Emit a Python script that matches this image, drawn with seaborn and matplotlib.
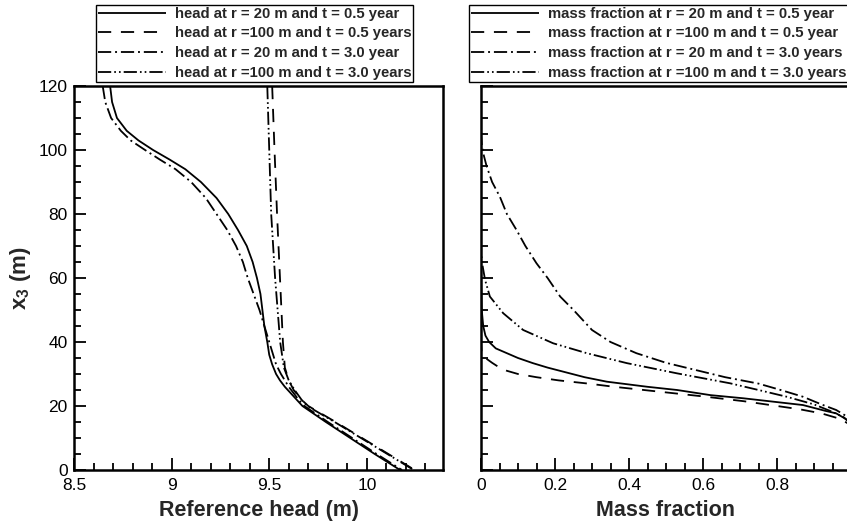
import numpy as np
import pandas as pd
import matplotlib
matplotlib.use("Agg")
import matplotlib.pyplot as plt
from matplotlib.ticker import MultipleLocator
from matplotlib.lines import Line2D
import seaborn as sns

sns.set_theme(style="white")
plt.rcParams['font.family'] = ['Liberation Sans', 'DejaVu Sans']
plt.rcParams['mathtext.fontset'] = 'custom'
plt.rcParams['mathtext.rm'] = 'Liberation Sans'
plt.rcParams['mathtext.bf'] = 'Liberation Sans:bold'
plt.rcParams['lines.scale_dashes'] = False

# ---------------- data: left panel (reference head) ----------------
head_labels = ["head at r = 20 m and t = 0.5 year",
               "head at r =100 m and t = 0.5 years",
               "head at r = 20 m and t = 3.0 year",
               "head at r =100 m and t = 3.0 years"]

h1_z = [120, 115, 110, 106, 103, 100, 97, 94, 90, 85, 80, 75, 70, 65, 60, 55, 50, 45, 40, 36, 33, 30, 28, 26, 24, 22, 20, 15, 10, 5, 0]
h1_v = [8.685, 8.695, 8.72, 8.77, 8.83, 8.905, 8.99, 9.07, 9.15, 9.23, 9.29, 9.34, 9.385, 9.415, 9.437, 9.455, 9.465, 9.475, 9.49, 9.50, 9.515, 9.535, 9.555, 9.58, 9.61, 9.64, 9.67, 9.79, 9.915, 10.04, 10.17]

h2_z = [120, 100, 80, 60, 40, 32, 28, 25, 22, 20, 15, 10, 5, 0]
h2_v = [9.515, 9.527, 9.54, 9.555, 9.57, 9.58, 9.60, 9.625, 9.665, 9.70, 9.84, 9.975, 10.11, 10.245]

h3_z = [120, 115, 110, 106, 103, 100, 97, 94, 90, 85, 80, 75, 70, 65, 60, 55, 50, 45, 40, 36, 33, 30, 28, 26, 24, 22, 20, 15, 10, 5, 0]
h3_v = [8.647, 8.66, 8.69, 8.74, 8.79, 8.864, 8.94, 9.02, 9.10, 9.175, 9.23, 9.285, 9.33, 9.365, 9.39, 9.42, 9.45, 9.475, 9.50, 9.52, 9.535, 9.56, 9.58, 9.60, 9.625, 9.65, 9.68, 9.80, 9.925, 10.05, 10.18]

h4_z = [120, 100, 80, 60, 40, 32, 28, 25, 22, 20, 15, 10, 5, 0]
h4_v = [9.49, 9.50, 9.51, 9.53, 9.556, 9.575, 9.60, 9.63, 9.665, 9.695, 9.835, 9.97, 10.105, 10.24]

# ---------------- data: right panel (mass fraction) ----------------
mass_labels = ["mass fraction at r = 20 m and t = 0.5 year",
               "mass fraction at r =100 m and t = 0.5 year",
               "mass fraction at r = 20 m and t = 3.0 years",
               "mass fraction at r =100 m and t = 3.0 years"]

m1_z = [120, 60, 50, 45, 42, 40, 38, 36.5, 35, 33.4, 32, 30.2, 29, 27.6, 26, 25, 23.4, 22.4, 20.3, 18.5, 17.7, 16, 14.5]
m1_v = [0, 0, 0.002, 0.006, 0.012, 0.022, 0.04, 0.07, 0.10, 0.14, 0.18, 0.24, 0.28, 0.34, 0.45, 0.53, 0.62, 0.71, 0.87, 0.93, 0.96, 0.985, 1.0]

m2_z = [120, 40, 36, 35, 33.5, 32, 31, 30, 29, 28, 27, 26, 24.5, 23, 21.5, 20, 19, 17.7, 16, 14]
m2_v = [0, 0, 0.002, 0.012, 0.03, 0.05, 0.07, 0.10, 0.15, 0.21, 0.29, 0.36, 0.48, 0.60, 0.71, 0.80, 0.86, 0.92, 0.97, 1.0]

m3_z = [120, 105, 102, 99, 95, 90, 85.4, 80, 75, 70, 64.6, 60, 54.2, 50, 43.75, 40, 36.5, 33.5, 31.25, 29, 27, 25, 22.9, 20.5, 18.75, 17, 15]
m3_v = [0, 0, 0.002, 0.006, 0.015, 0.03, 0.051, 0.07, 0.096, 0.12, 0.15, 0.18, 0.214, 0.25, 0.30, 0.35, 0.42, 0.50, 0.58, 0.66, 0.75, 0.81, 0.87, 0.92, 0.96, 0.985, 1.0]

m4_z = [120, 68, 64, 59.4, 54.2, 49, 43.75, 39.6, 36.5, 33.4, 30.2, 27.1, 25, 22.9, 20.5, 18.5, 16.5, 14.5]
m4_v = [0, 0, 0.004, 0.011, 0.024, 0.06, 0.114, 0.195, 0.286, 0.394, 0.53, 0.673, 0.75, 0.826, 0.90, 0.943, 0.98, 1.0]

# ---------------- styling ----------------
styles = [(0, ()), (0, (9.5, 7.0)), (0, (9.5, 2.8, 1.4, 2.8)), (0, (9.5, 2.2, 1.2, 2.2, 1.2, 2.2))]
LW = 1.3

W, H = 847, 529
fig = plt.figure(figsize=(W / 100, H / 100), dpi=100)
axL = fig.add_axes([74 / W, 1 - 470 / H, (443 - 74) / W, (470 - 86) / H])
axR = fig.add_axes([481 / W, 1 - 470 / H, 370 / W, (470 - 86) / H])


def long_df(vals_list, z_list, labels):
    frames = []
    for v, z, lab in zip(vals_list, z_list, labels):
        frames.append(pd.DataFrame({"x": v, "z": z, "series": lab, "order": np.arange(len(v))}))
    return pd.concat(frames, ignore_index=True)


dfL = long_df([h1_v, h2_v, h3_v, h4_v], [h1_z, h2_z, h3_z, h4_z], head_labels)
dfR = long_df([m1_v, m2_v, m3_v, m4_v], [m1_z, m2_z, m3_z, m4_z], mass_labels)

for ax, df, labels in [(axL, dfL, head_labels), (axR, dfR, mass_labels)]:
    for lab, ls in zip(labels, styles):
        sub = df[df["series"] == lab]
        sns.lineplot(data=sub, x="x", y="z", sort=False, estimator=None,
                     color="black", lw=LW, linestyle=ls, ax=ax)

for ax in (axL, axR):
    ax.set_ylim(0, 120)
    ax.yaxis.set_major_locator(MultipleLocator(20))
    ax.yaxis.set_minor_locator(MultipleLocator(5))
    for sp in ax.spines.values():
        sp.set_linewidth(1.8)
        sp.set_color("black")
    ax.tick_params(which="both", direction="in", top=False, right=False,
                   bottom=True, left=True, width=1.3, colors="black",
                   labelsize=12.5, labelcolor="black")
    ax.tick_params(which="major", length=8.5)
    ax.tick_params(which="minor", length=5)
    ax.tick_params(axis="x", which="major", pad=6)
    ax.tick_params(axis="y", which="major", pad=4.5)
    ax.grid(False)
    ax.set_facecolor("white")

axL.set_xlim(8.5, 10.39)
axL.xaxis.set_major_locator(MultipleLocator(0.5))
axL.xaxis.set_minor_locator(MultipleLocator(0.1))
axL.set_xticks([8.5, 9, 9.5, 10])
axL.set_xticklabels(["8.5", "9", "9.5", "10"])
axL.set_yticks([0, 20, 40, 60, 80, 100, 120])
axL.set_yticklabels(["0", "20", "40", "60", "80", "100", "120"])

axR.set_xlim(0, 1)
axR.xaxis.set_major_locator(MultipleLocator(0.2))
axR.xaxis.set_minor_locator(MultipleLocator(0.05))
axR.set_xticks([0, 0.2, 0.4, 0.6, 0.8, 1.0])
axR.set_xticklabels(["0", "0.2", "0.4", "0.6", "0.8", "1"])
axR.set_yticklabels([])

axL.set_xlabel("Reference head (m)", fontsize=15.5, fontweight="bold", labelpad=5)
axR.set_xlabel("Mass fraction", fontsize=15.5, fontweight="bold", labelpad=5)
axL.set_ylabel(r"$\mathbf{x_3}$ (m)", fontsize=16, fontweight="bold", labelpad=4)
axR.set_ylabel("")

# legends
for ax, labels, x0 in [(axL, head_labels, 96), (axR, mass_labels, 469)]:
    handles = [Line2D([], [], color="black", lw=LW, linestyle=ls) for ls in styles]
    leg = fig.legend(handles, labels, loc="upper left",
                     bbox_to_anchor=(x0 / W, 1 - 5 / H), bbox_transform=fig.transFigure,
                     frameon=True, fancybox=False, framealpha=1, edgecolor="black",
                     prop={"weight": "bold", "size": 10.7}, handlelength=4.6,
                     handletextpad=0.6, borderpad=0.12, labelspacing=0.38,
                     borderaxespad=0)
    leg.get_frame().set_linewidth(1.0)

fig.savefig("out.png", dpi=100, facecolor="white")
